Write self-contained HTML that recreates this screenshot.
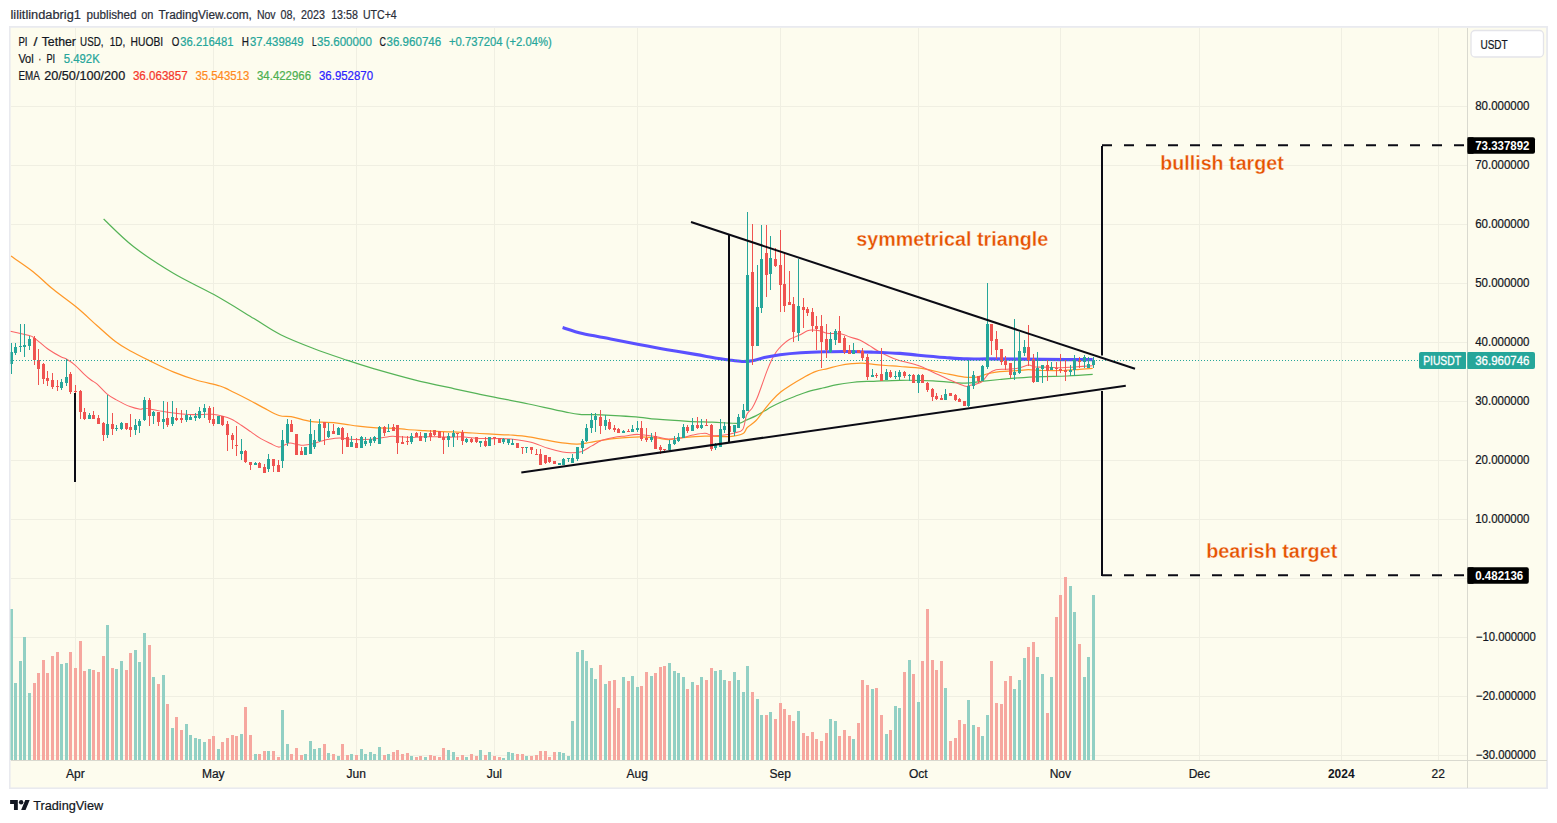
<!DOCTYPE html>
<html><head><meta charset="utf-8"><title>PIUSDT chart</title>
<style>html,body{margin:0;padding:0;background:#fff;width:1557px;height:823px;overflow:hidden;font-family:"Liberation Sans",sans-serif}</style>
</head><body>
<svg width="1557" height="823" viewBox="0 0 1557 823" style="position:absolute;left:0;top:0;font-family:'Liberation Sans',sans-serif">
<rect x="9" y="26" width="1539" height="763" fill="#e9eaef"/>
<rect x="10.6" y="27.8" width="1535.5" height="759.6" fill="#fdfcee"/>
<defs><clipPath id="pane"><rect x="10.5" y="27.5" width="1457" height="732.5"/></clipPath></defs>
<g shape-rendering="crispEdges" fill="#f0efe2">
<rect x="75" y="28" width="1" height="732"/>
<rect x="213" y="28" width="1" height="732"/>
<rect x="356" y="28" width="1" height="732"/>
<rect x="494" y="28" width="1" height="732"/>
<rect x="637" y="28" width="1" height="732"/>
<rect x="780" y="28" width="1" height="732"/>
<rect x="918" y="28" width="1" height="732"/>
<rect x="1060" y="28" width="1" height="732"/>
<rect x="1199" y="28" width="1" height="732"/>
<rect x="1341" y="28" width="1" height="732"/>
<rect x="1438" y="28" width="1" height="732"/>
<rect x="11" y="106" width="1456" height="1"/>
<rect x="11" y="165" width="1456" height="1"/>
<rect x="11" y="224" width="1456" height="1"/>
<rect x="11" y="283" width="1456" height="1"/>
<rect x="11" y="342" width="1456" height="1"/>
<rect x="11" y="401" width="1456" height="1"/>
<rect x="11" y="460" width="1456" height="1"/>
<rect x="11" y="519" width="1456" height="1"/>
<rect x="11" y="578" width="1456" height="1"/>
<rect x="11" y="637" width="1456" height="1"/>
<rect x="11" y="696" width="1456" height="1"/>
<rect x="11" y="755" width="1456" height="1"/>
</g>
<g shape-rendering="crispEdges" fill="#d9d9cf"><rect x="1467" y="28" width="1" height="760"/><rect x="11" y="760" width="1536" height="1"/></g>
<g clip-path="url(#pane)">
<g shape-rendering="crispEdges">
<rect x="10" y="609" width="3" height="151" fill="#92d0c4"/>
<rect x="14" y="683" width="3" height="77" fill="#92d0c4"/>
<rect x="19" y="661" width="3" height="99" fill="#92d0c4"/>
<rect x="23" y="637" width="3" height="123" fill="#92d0c4"/>
<rect x="28" y="693" width="3" height="67" fill="#92d0c4"/>
<rect x="33" y="683" width="3" height="77" fill="#f6a79f"/>
<rect x="37" y="673" width="3" height="87" fill="#f6a79f"/>
<rect x="42" y="660" width="3" height="100" fill="#f6a79f"/>
<rect x="46" y="673" width="3" height="87" fill="#f6a79f"/>
<rect x="51" y="656" width="3" height="104" fill="#f6a79f"/>
<rect x="56" y="652" width="3" height="108" fill="#f6a79f"/>
<rect x="60" y="664" width="3" height="96" fill="#92d0c4"/>
<rect x="65" y="663" width="3" height="97" fill="#92d0c4"/>
<rect x="69" y="652" width="3" height="108" fill="#f6a79f"/>
<rect x="74" y="668" width="3" height="92" fill="#f6a79f"/>
<rect x="79" y="641" width="3" height="119" fill="#f6a79f"/>
<rect x="83" y="671" width="3" height="89" fill="#f6a79f"/>
<rect x="88" y="669" width="3" height="91" fill="#92d0c4"/>
<rect x="92" y="670" width="3" height="90" fill="#f6a79f"/>
<rect x="97" y="672" width="3" height="88" fill="#f6a79f"/>
<rect x="102" y="656" width="3" height="104" fill="#f6a79f"/>
<rect x="106" y="625" width="3" height="135" fill="#92d0c4"/>
<rect x="111" y="668" width="3" height="92" fill="#f6a79f"/>
<rect x="115" y="669" width="3" height="91" fill="#92d0c4"/>
<rect x="120" y="661" width="3" height="99" fill="#92d0c4"/>
<rect x="125" y="670" width="3" height="90" fill="#f6a79f"/>
<rect x="129" y="653" width="3" height="107" fill="#f6a79f"/>
<rect x="134" y="650" width="3" height="110" fill="#92d0c4"/>
<rect x="138" y="662" width="3" height="98" fill="#92d0c4"/>
<rect x="143" y="633" width="3" height="127" fill="#92d0c4"/>
<rect x="148" y="645" width="3" height="115" fill="#f6a79f"/>
<rect x="152" y="677" width="3" height="83" fill="#92d0c4"/>
<rect x="157" y="684" width="3" height="76" fill="#f6a79f"/>
<rect x="162" y="675" width="3" height="85" fill="#92d0c4"/>
<rect x="166" y="704" width="3" height="56" fill="#f6a79f"/>
<rect x="171" y="728" width="3" height="32" fill="#92d0c4"/>
<rect x="175" y="717" width="3" height="43" fill="#f6a79f"/>
<rect x="180" y="730" width="3" height="30" fill="#f6a79f"/>
<rect x="185" y="724" width="3" height="36" fill="#92d0c4"/>
<rect x="189" y="735" width="3" height="25" fill="#92d0c4"/>
<rect x="194" y="738" width="3" height="22" fill="#92d0c4"/>
<rect x="198" y="739" width="3" height="21" fill="#92d0c4"/>
<rect x="203" y="742" width="3" height="18" fill="#92d0c4"/>
<rect x="208" y="739" width="3" height="21" fill="#f6a79f"/>
<rect x="212" y="736" width="3" height="24" fill="#f6a79f"/>
<rect x="217" y="749" width="3" height="11" fill="#92d0c4"/>
<rect x="221" y="742" width="3" height="18" fill="#f6a79f"/>
<rect x="226" y="738" width="3" height="22" fill="#f6a79f"/>
<rect x="231" y="735" width="3" height="25" fill="#f6a79f"/>
<rect x="235" y="736" width="3" height="24" fill="#f6a79f"/>
<rect x="240" y="734" width="3" height="26" fill="#92d0c4"/>
<rect x="244" y="707" width="3" height="53" fill="#f6a79f"/>
<rect x="249" y="735" width="3" height="25" fill="#f6a79f"/>
<rect x="254" y="754" width="3" height="6" fill="#92d0c4"/>
<rect x="258" y="754" width="3" height="6" fill="#f6a79f"/>
<rect x="263" y="751" width="3" height="9" fill="#f6a79f"/>
<rect x="267" y="751" width="3" height="9" fill="#92d0c4"/>
<rect x="272" y="751" width="3" height="9" fill="#f6a79f"/>
<rect x="277" y="757" width="3" height="3" fill="#f6a79f"/>
<rect x="281" y="710" width="3" height="50" fill="#92d0c4"/>
<rect x="286" y="744" width="3" height="16" fill="#92d0c4"/>
<rect x="290" y="754" width="3" height="6" fill="#f6a79f"/>
<rect x="295" y="748" width="3" height="12" fill="#f6a79f"/>
<rect x="300" y="755" width="3" height="5" fill="#f6a79f"/>
<rect x="304" y="754" width="3" height="6" fill="#92d0c4"/>
<rect x="309" y="741" width="3" height="19" fill="#92d0c4"/>
<rect x="313" y="749" width="3" height="11" fill="#92d0c4"/>
<rect x="318" y="748" width="3" height="12" fill="#92d0c4"/>
<rect x="323" y="744" width="3" height="16" fill="#f6a79f"/>
<rect x="327" y="753" width="3" height="7" fill="#92d0c4"/>
<rect x="332" y="754" width="3" height="6" fill="#f6a79f"/>
<rect x="337" y="756" width="3" height="4" fill="#92d0c4"/>
<rect x="341" y="744" width="3" height="16" fill="#f6a79f"/>
<rect x="346" y="755" width="3" height="5" fill="#f6a79f"/>
<rect x="350" y="754" width="3" height="6" fill="#92d0c4"/>
<rect x="355" y="755" width="3" height="5" fill="#f6a79f"/>
<rect x="360" y="749" width="3" height="11" fill="#92d0c4"/>
<rect x="364" y="754" width="3" height="6" fill="#92d0c4"/>
<rect x="369" y="752" width="3" height="8" fill="#92d0c4"/>
<rect x="373" y="754" width="3" height="6" fill="#92d0c4"/>
<rect x="378" y="747" width="3" height="13" fill="#92d0c4"/>
<rect x="383" y="755" width="3" height="5" fill="#f6a79f"/>
<rect x="387" y="754" width="3" height="6" fill="#92d0c4"/>
<rect x="392" y="752" width="3" height="8" fill="#f6a79f"/>
<rect x="396" y="750" width="3" height="10" fill="#f6a79f"/>
<rect x="401" y="754" width="3" height="6" fill="#f6a79f"/>
<rect x="406" y="753" width="3" height="7" fill="#f6a79f"/>
<rect x="410" y="756" width="3" height="4" fill="#92d0c4"/>
<rect x="415" y="757" width="3" height="3" fill="#f6a79f"/>
<rect x="419" y="756" width="3" height="4" fill="#f6a79f"/>
<rect x="424" y="757" width="3" height="3" fill="#92d0c4"/>
<rect x="429" y="755" width="3" height="5" fill="#f6a79f"/>
<rect x="433" y="756" width="3" height="4" fill="#f6a79f"/>
<rect x="438" y="757" width="3" height="3" fill="#f6a79f"/>
<rect x="442" y="748" width="3" height="12" fill="#f6a79f"/>
<rect x="447" y="750" width="3" height="10" fill="#92d0c4"/>
<rect x="452" y="752" width="3" height="8" fill="#92d0c4"/>
<rect x="456" y="757" width="3" height="3" fill="#f6a79f"/>
<rect x="461" y="755" width="3" height="5" fill="#f6a79f"/>
<rect x="465" y="757" width="3" height="3" fill="#92d0c4"/>
<rect x="470" y="754" width="3" height="6" fill="#f6a79f"/>
<rect x="475" y="756" width="3" height="4" fill="#f6a79f"/>
<rect x="479" y="750" width="3" height="10" fill="#92d0c4"/>
<rect x="484" y="755" width="3" height="5" fill="#f6a79f"/>
<rect x="488" y="752" width="3" height="8" fill="#92d0c4"/>
<rect x="493" y="756" width="3" height="4" fill="#f6a79f"/>
<rect x="498" y="757" width="3" height="3" fill="#f6a79f"/>
<rect x="502" y="758" width="3" height="2" fill="#92d0c4"/>
<rect x="507" y="752" width="3" height="8" fill="#92d0c4"/>
<rect x="511" y="753" width="3" height="7" fill="#92d0c4"/>
<rect x="516" y="754" width="3" height="6" fill="#f6a79f"/>
<rect x="521" y="754" width="3" height="6" fill="#f6a79f"/>
<rect x="525" y="756" width="3" height="4" fill="#92d0c4"/>
<rect x="530" y="756" width="3" height="4" fill="#f6a79f"/>
<rect x="535" y="755" width="3" height="5" fill="#f6a79f"/>
<rect x="539" y="751" width="3" height="9" fill="#f6a79f"/>
<rect x="544" y="751" width="3" height="9" fill="#f6a79f"/>
<rect x="548" y="757" width="3" height="3" fill="#f6a79f"/>
<rect x="553" y="752" width="3" height="8" fill="#f6a79f"/>
<rect x="558" y="752" width="3" height="8" fill="#92d0c4"/>
<rect x="562" y="753" width="3" height="7" fill="#92d0c4"/>
<rect x="567" y="756" width="3" height="4" fill="#92d0c4"/>
<rect x="571" y="721" width="3" height="39" fill="#92d0c4"/>
<rect x="576" y="652" width="3" height="108" fill="#92d0c4"/>
<rect x="581" y="650" width="3" height="110" fill="#92d0c4"/>
<rect x="585" y="661" width="3" height="99" fill="#92d0c4"/>
<rect x="590" y="668" width="3" height="92" fill="#92d0c4"/>
<rect x="594" y="679" width="3" height="81" fill="#92d0c4"/>
<rect x="599" y="665" width="3" height="95" fill="#f6a79f"/>
<rect x="604" y="684" width="3" height="76" fill="#92d0c4"/>
<rect x="608" y="681" width="3" height="79" fill="#f6a79f"/>
<rect x="613" y="680" width="3" height="80" fill="#f6a79f"/>
<rect x="617" y="708" width="3" height="52" fill="#f6a79f"/>
<rect x="622" y="677" width="3" height="83" fill="#92d0c4"/>
<rect x="627" y="681" width="3" height="79" fill="#f6a79f"/>
<rect x="631" y="676" width="3" height="84" fill="#92d0c4"/>
<rect x="636" y="687" width="3" height="73" fill="#92d0c4"/>
<rect x="640" y="686" width="3" height="74" fill="#f6a79f"/>
<rect x="645" y="672" width="3" height="88" fill="#f6a79f"/>
<rect x="650" y="676" width="3" height="84" fill="#92d0c4"/>
<rect x="654" y="673" width="3" height="87" fill="#f6a79f"/>
<rect x="659" y="667" width="3" height="93" fill="#f6a79f"/>
<rect x="663" y="666" width="3" height="94" fill="#f6a79f"/>
<rect x="668" y="663" width="3" height="97" fill="#92d0c4"/>
<rect x="673" y="671" width="3" height="89" fill="#92d0c4"/>
<rect x="677" y="673" width="3" height="87" fill="#92d0c4"/>
<rect x="682" y="677" width="3" height="83" fill="#92d0c4"/>
<rect x="686" y="689" width="3" height="71" fill="#f6a79f"/>
<rect x="691" y="682" width="3" height="78" fill="#92d0c4"/>
<rect x="696" y="685" width="3" height="75" fill="#f6a79f"/>
<rect x="700" y="677" width="3" height="83" fill="#92d0c4"/>
<rect x="705" y="680" width="3" height="80" fill="#f6a79f"/>
<rect x="710" y="668" width="3" height="92" fill="#f6a79f"/>
<rect x="714" y="671" width="3" height="89" fill="#92d0c4"/>
<rect x="719" y="670" width="3" height="90" fill="#92d0c4"/>
<rect x="723" y="680" width="3" height="80" fill="#92d0c4"/>
<rect x="728" y="681" width="3" height="79" fill="#f6a79f"/>
<rect x="733" y="672" width="3" height="88" fill="#92d0c4"/>
<rect x="737" y="680" width="3" height="80" fill="#92d0c4"/>
<rect x="742" y="692" width="3" height="68" fill="#92d0c4"/>
<rect x="746" y="666" width="3" height="94" fill="#92d0c4"/>
<rect x="751" y="692" width="3" height="68" fill="#f6a79f"/>
<rect x="756" y="699" width="3" height="61" fill="#92d0c4"/>
<rect x="760" y="715" width="3" height="45" fill="#92d0c4"/>
<rect x="765" y="715" width="3" height="45" fill="#f6a79f"/>
<rect x="769" y="712" width="3" height="48" fill="#92d0c4"/>
<rect x="774" y="719" width="3" height="41" fill="#f6a79f"/>
<rect x="779" y="703" width="3" height="57" fill="#f6a79f"/>
<rect x="783" y="709" width="3" height="51" fill="#f6a79f"/>
<rect x="788" y="715" width="3" height="45" fill="#f6a79f"/>
<rect x="792" y="721" width="3" height="39" fill="#f6a79f"/>
<rect x="797" y="711" width="3" height="49" fill="#92d0c4"/>
<rect x="802" y="733" width="3" height="27" fill="#f6a79f"/>
<rect x="806" y="736" width="3" height="24" fill="#f6a79f"/>
<rect x="811" y="732" width="3" height="28" fill="#f6a79f"/>
<rect x="815" y="739" width="3" height="21" fill="#f6a79f"/>
<rect x="820" y="741" width="3" height="19" fill="#f6a79f"/>
<rect x="825" y="733" width="3" height="27" fill="#f6a79f"/>
<rect x="829" y="719" width="3" height="41" fill="#92d0c4"/>
<rect x="834" y="721" width="3" height="39" fill="#92d0c4"/>
<rect x="838" y="736" width="3" height="24" fill="#f6a79f"/>
<rect x="843" y="730" width="3" height="30" fill="#f6a79f"/>
<rect x="848" y="736" width="3" height="24" fill="#f6a79f"/>
<rect x="852" y="739" width="3" height="21" fill="#92d0c4"/>
<rect x="857" y="723" width="3" height="37" fill="#f6a79f"/>
<rect x="861" y="680" width="3" height="80" fill="#f6a79f"/>
<rect x="866" y="685" width="3" height="75" fill="#f6a79f"/>
<rect x="871" y="689" width="3" height="71" fill="#92d0c4"/>
<rect x="875" y="688" width="3" height="72" fill="#f6a79f"/>
<rect x="880" y="715" width="3" height="45" fill="#f6a79f"/>
<rect x="885" y="734" width="3" height="26" fill="#92d0c4"/>
<rect x="889" y="730" width="3" height="30" fill="#f6a79f"/>
<rect x="894" y="706" width="3" height="54" fill="#92d0c4"/>
<rect x="898" y="708" width="3" height="52" fill="#92d0c4"/>
<rect x="903" y="672" width="3" height="88" fill="#f6a79f"/>
<rect x="908" y="660" width="3" height="100" fill="#92d0c4"/>
<rect x="912" y="674" width="3" height="86" fill="#f6a79f"/>
<rect x="917" y="702" width="3" height="58" fill="#92d0c4"/>
<rect x="921" y="661" width="3" height="99" fill="#f6a79f"/>
<rect x="926" y="609" width="3" height="151" fill="#f6a79f"/>
<rect x="931" y="660" width="3" height="100" fill="#f6a79f"/>
<rect x="935" y="670" width="3" height="90" fill="#f6a79f"/>
<rect x="940" y="661" width="3" height="99" fill="#f6a79f"/>
<rect x="944" y="688" width="3" height="72" fill="#92d0c4"/>
<rect x="949" y="741" width="3" height="19" fill="#f6a79f"/>
<rect x="954" y="738" width="3" height="22" fill="#f6a79f"/>
<rect x="958" y="720" width="3" height="40" fill="#f6a79f"/>
<rect x="963" y="724" width="3" height="36" fill="#f6a79f"/>
<rect x="967" y="700" width="3" height="60" fill="#92d0c4"/>
<rect x="972" y="725" width="3" height="35" fill="#92d0c4"/>
<rect x="977" y="727" width="3" height="33" fill="#f6a79f"/>
<rect x="981" y="736" width="3" height="24" fill="#92d0c4"/>
<rect x="986" y="715" width="3" height="45" fill="#92d0c4"/>
<rect x="990" y="661" width="3" height="99" fill="#f6a79f"/>
<rect x="995" y="703" width="3" height="57" fill="#f6a79f"/>
<rect x="1000" y="704" width="3" height="56" fill="#f6a79f"/>
<rect x="1004" y="681" width="3" height="79" fill="#f6a79f"/>
<rect x="1009" y="676" width="3" height="84" fill="#f6a79f"/>
<rect x="1013" y="689" width="3" height="71" fill="#92d0c4"/>
<rect x="1018" y="680" width="3" height="80" fill="#92d0c4"/>
<rect x="1023" y="658" width="3" height="102" fill="#92d0c4"/>
<rect x="1027" y="647" width="3" height="113" fill="#f6a79f"/>
<rect x="1032" y="642" width="3" height="118" fill="#f6a79f"/>
<rect x="1036" y="657" width="3" height="103" fill="#92d0c4"/>
<rect x="1041" y="674" width="3" height="86" fill="#92d0c4"/>
<rect x="1046" y="713" width="3" height="47" fill="#f6a79f"/>
<rect x="1050" y="677" width="3" height="83" fill="#92d0c4"/>
<rect x="1055" y="617" width="3" height="143" fill="#f6a79f"/>
<rect x="1059" y="595" width="3" height="165" fill="#f6a79f"/>
<rect x="1064" y="577" width="3" height="183" fill="#f6a79f"/>
<rect x="1069" y="586" width="3" height="174" fill="#92d0c4"/>
<rect x="1073" y="612" width="3" height="148" fill="#92d0c4"/>
<rect x="1078" y="644" width="3" height="116" fill="#f6a79f"/>
<rect x="1083" y="677" width="3" height="83" fill="#92d0c4"/>
<rect x="1087" y="657" width="3" height="103" fill="#92d0c4"/>
<rect x="1092" y="595" width="3" height="165" fill="#92d0c4"/>
</g>
<path d="M103.6 219.0C108.6 223.6 122.0 237.7 133.7 246.8C145.4 255.9 160.4 265.5 173.8 273.5C187.2 281.5 200.5 287.1 213.9 294.6C227.3 302.1 242.9 311.9 254.0 318.6C265.1 325.3 270.7 329.7 280.7 334.7C290.7 339.7 303.0 344.4 314.2 348.7C325.4 353.0 337.6 357.0 347.6 360.4C357.6 363.8 363.2 365.6 374.3 368.8C385.4 372.0 401.0 376.5 414.4 379.8C427.8 383.1 443.6 386.4 454.5 388.8C465.4 391.2 472.4 392.7 480.0 394.3C487.6 395.9 491.9 396.7 500.0 398.3C508.1 399.9 517.8 401.7 528.6 404.0C539.4 406.3 556.5 410.2 565.0 411.9C573.5 413.6 573.5 413.8 579.6 414.3C585.7 414.8 594.8 414.6 601.5 414.9C608.2 415.2 613.6 415.5 620.0 415.9C626.4 416.3 633.9 416.8 640.0 417.3C646.1 417.9 648.5 418.5 656.5 419.2C664.5 419.9 678.7 420.8 688.0 421.3C697.3 421.8 705.4 421.9 712.3 422.2C719.2 422.5 724.8 422.9 729.4 423.1C734.0 423.3 737.2 423.7 740.0 423.2C742.8 422.7 743.4 421.4 746.0 420.2C748.6 419.0 752.8 417.4 755.8 415.9C758.8 414.4 761.7 412.6 764.3 411.1C766.9 409.6 768.8 408.3 771.6 406.8C774.4 405.3 777.4 403.7 781.3 402.0C785.1 400.3 790.2 398.2 794.7 396.5C799.2 394.8 803.4 393.0 808.0 391.6C812.6 390.2 817.7 389.1 822.6 388.0C827.5 386.9 832.3 385.6 837.2 384.7C842.1 383.8 847.8 383.0 851.8 382.5C855.8 382.0 857.9 381.8 861.5 381.6C865.1 381.4 867.3 381.5 873.7 381.3C880.1 381.1 890.1 380.4 900.0 380.3C909.9 380.2 922.2 380.3 933.0 380.8C943.8 381.3 956.4 383.1 964.5 383.2C972.6 383.3 975.6 382.0 981.5 381.4C987.4 380.8 993.5 380.1 999.7 379.5C1005.9 378.9 1011.4 378.3 1018.6 377.8C1025.8 377.3 1034.8 376.9 1042.9 376.6C1051.0 376.3 1058.9 376.4 1067.2 376.0C1075.5 375.6 1088.5 374.7 1092.7 374.4" fill="none" stroke="#55b357" stroke-width="1.2" stroke-linejoin="round" stroke-linecap="butt" />
<path d="M11.0 256.1C14.7 258.7 26.3 266.3 33.4 271.9C40.5 277.5 46.2 283.7 53.5 289.6C60.8 295.6 69.6 301.6 76.9 307.6C84.2 313.6 90.8 320.1 97.2 325.8C103.6 331.5 109.9 337.5 115.4 341.6C120.9 345.8 124.2 347.4 130.0 350.7C135.8 353.9 143.1 357.5 150.4 361.1C157.7 364.7 166.2 369.0 173.8 372.1C181.4 375.2 188.4 377.7 196.1 380.0C203.8 382.3 214.5 384.3 220.0 386.0C225.5 387.7 224.4 387.7 229.2 390.0C234.0 392.3 242.9 396.8 248.6 399.7C254.3 402.6 258.1 405.0 263.2 407.6C268.3 410.2 274.4 414.0 279.0 415.5C283.6 417.0 287.1 416.0 291.1 416.7C295.2 417.4 299.9 419.0 303.3 419.8C306.8 420.6 308.8 421.2 311.8 421.6C314.8 422.0 317.9 422.0 321.5 422.2C325.1 422.4 329.6 422.2 333.7 422.6C337.8 423.0 341.7 423.7 345.8 424.3C349.9 424.9 353.1 425.6 358.2 426.2C363.3 426.8 370.4 427.5 376.5 427.9C382.6 428.2 389.6 428.0 394.7 428.3C399.8 428.6 401.8 429.1 406.8 429.5C411.9 429.9 418.9 430.3 425.0 430.7C431.1 431.1 437.2 431.3 443.3 431.6C449.4 431.9 455.4 432.0 461.5 432.3C467.6 432.6 473.4 433.1 479.8 433.5C486.2 433.9 494.9 434.4 500.0 434.7C505.1 434.9 505.6 434.6 510.4 435.0C515.2 435.4 522.3 435.9 528.6 436.8C534.9 437.7 541.9 439.3 548.0 440.4C554.1 441.5 560.1 442.6 565.0 443.2C569.9 443.8 573.1 444.2 577.2 444.1C581.3 444.0 585.4 443.1 589.4 442.5C593.4 441.9 597.5 441.0 601.5 440.4C605.5 439.8 607.3 439.2 613.7 438.6C620.1 438.0 632.9 436.9 640.0 436.8C647.1 436.7 651.7 437.6 656.5 438.0C661.3 438.4 664.6 439.5 668.6 439.5C672.6 439.5 674.7 438.6 680.8 438.0C686.9 437.4 696.9 436.4 705.0 436.2C713.1 436.0 723.1 437.0 729.4 436.6C735.7 436.2 739.7 435.3 742.7 433.8C745.7 432.3 745.1 429.7 747.3 427.5C749.5 425.3 753.0 423.7 755.8 420.8C758.6 417.9 761.7 413.2 764.3 409.9C766.9 406.6 768.8 403.9 771.6 400.8C774.4 397.8 778.1 394.2 781.3 391.6C784.5 389.0 787.4 387.3 791.0 385.0C794.6 382.7 799.2 379.9 803.2 377.7C807.2 375.5 811.2 373.1 815.3 371.6C819.3 370.1 823.5 369.6 827.5 368.6C831.5 367.6 835.6 366.3 839.6 365.5C843.6 364.7 848.1 364.1 851.8 363.7C855.4 363.3 857.9 363.0 861.5 363.1C865.1 363.2 869.7 363.9 873.7 364.3C877.8 364.7 881.4 365.1 885.8 365.5C890.2 365.9 893.8 366.0 900.0 366.5C906.2 367.0 915.5 367.4 923.0 368.6C930.5 369.8 938.1 372.1 945.0 373.5C951.9 374.9 959.2 376.5 964.5 377.1C969.8 377.7 972.6 377.7 976.6 377.1C980.6 376.5 984.9 374.4 988.8 373.5C992.6 372.6 994.7 372.1 999.7 371.6C1004.7 371.1 1013.8 370.8 1018.6 370.5C1023.4 370.2 1024.2 369.7 1028.3 369.7C1032.3 369.7 1037.2 370.4 1042.9 370.5C1048.6 370.6 1056.2 370.7 1062.3 370.5C1068.4 370.3 1074.3 369.7 1079.4 369.3C1084.5 368.9 1090.5 368.5 1092.7 368.3" fill="none" stroke="#ff9828" stroke-width="1.25" stroke-linejoin="round" stroke-linecap="butt" />
<path d="M10.3 331.3C13.5 332.0 25.0 334.3 29.2 335.5C33.4 336.7 32.0 336.3 35.2 338.6C38.4 340.9 44.3 346.5 48.6 349.5C52.9 352.5 57.8 355.2 60.8 356.8C63.8 358.4 64.4 357.8 66.8 359.2C69.2 360.6 72.5 362.9 75.3 365.3C78.1 367.7 81.2 371.4 83.8 373.8C86.4 376.2 88.8 378.3 91.0 380.0C93.2 381.7 94.5 381.8 97.2 384.1C99.9 386.4 103.8 391.2 106.9 393.8C110.0 396.4 112.1 397.5 115.9 399.6C119.8 401.7 126.0 405.0 130.0 406.6C134.1 408.2 137.7 408.9 140.2 409.2C142.7 409.5 142.2 408.0 145.0 408.2C147.8 408.4 153.1 409.7 157.2 410.4C161.3 411.1 165.3 412.0 169.4 412.6C173.5 413.2 177.4 413.7 181.5 414.0C185.6 414.3 189.6 414.6 193.7 414.6C197.8 414.7 202.7 414.4 205.8 414.3C208.9 414.2 209.5 414.0 212.2 414.3C214.9 414.6 218.7 415.1 221.9 415.9C225.1 416.7 228.4 417.6 231.6 419.2C234.8 420.8 238.1 423.1 241.3 425.2C244.5 427.3 247.8 429.7 251.0 431.9C254.2 434.1 257.6 436.7 260.8 438.6C264.1 440.5 267.6 442.1 270.5 443.5C273.4 444.9 276.2 446.8 278.4 447.1C280.6 447.4 281.9 446.0 283.8 445.3C285.7 444.6 287.7 443.2 289.9 443.1C292.1 443.0 295.0 444.0 297.2 444.4C299.4 444.8 300.9 445.4 303.3 445.3C305.7 445.2 308.8 444.8 311.8 444.1C314.8 443.4 318.7 441.8 321.5 441.0C324.3 440.2 325.8 439.7 328.8 439.2C331.8 438.7 336.2 438.0 339.7 438.0C343.1 438.0 346.1 438.9 349.5 439.2C352.9 439.5 356.5 439.6 360.0 439.6C363.5 439.6 367.0 439.5 370.4 439.2C373.8 438.9 376.5 438.5 380.1 438.0C383.7 437.5 389.2 436.4 392.2 436.2C395.2 436.0 394.9 436.6 398.3 436.8C401.8 437.0 408.4 437.4 412.9 437.4C417.3 437.4 420.9 436.9 425.0 436.8C429.1 436.7 433.1 436.8 437.2 436.8C441.3 436.9 445.3 437.1 449.4 437.1C453.4 437.1 457.4 436.7 461.5 436.8C465.6 436.9 469.6 437.7 473.7 438.0C477.8 438.3 481.4 438.5 485.8 438.6C490.2 438.7 495.5 438.5 500.0 438.6C504.5 438.7 507.6 438.6 512.8 439.2C518.0 439.8 525.1 440.7 531.0 442.2C536.9 443.7 542.7 446.7 548.0 448.3C553.3 449.9 558.6 451.2 562.6 452.0C566.6 452.8 569.1 452.9 572.3 452.8C575.5 452.7 578.8 452.5 582.0 451.4C585.2 450.2 588.5 447.7 591.8 445.9C595.0 444.1 597.9 441.8 601.5 440.4C605.1 439.0 609.7 438.1 613.7 437.4C617.8 436.6 621.7 436.4 625.8 435.9C629.9 435.4 633.1 434.2 638.2 434.4C643.3 434.5 651.4 436.0 656.5 436.8C661.6 437.6 664.6 438.8 668.6 439.0C672.6 439.2 676.8 438.7 680.8 438.0C684.8 437.3 688.9 435.8 692.9 435.0C696.9 434.2 701.8 433.1 705.0 433.2C708.2 433.3 709.0 435.3 712.3 435.6C715.5 435.9 720.9 435.4 724.5 435.0C728.1 434.6 731.2 433.8 734.2 432.9C737.2 432.0 740.6 432.5 742.7 429.5C744.8 426.5 745.1 418.3 746.7 414.7C748.3 411.1 750.5 410.7 752.2 408.0C753.9 405.3 755.4 402.1 757.0 398.3C758.6 394.5 760.3 389.4 761.9 385.0C763.5 380.6 765.1 375.8 766.7 371.6C768.3 367.4 770.0 363.4 771.6 360.0C773.2 356.6 774.7 354.0 776.5 351.5C778.3 349.0 780.4 346.9 782.5 344.9C784.6 342.9 786.5 341.1 789.3 339.5C792.0 337.9 796.0 336.8 799.0 335.3C802.0 333.9 805.3 331.7 807.5 330.8C809.7 329.9 810.1 330.0 812.3 330.0C814.5 330.0 818.5 330.5 820.9 331.0C823.3 331.5 823.5 332.7 826.9 333.2C830.3 333.7 837.6 333.4 841.5 334.0C845.4 334.6 847.0 336.1 850.0 337.1C853.0 338.1 856.5 338.7 859.7 340.1C863.0 341.5 866.5 343.8 869.5 345.6C872.5 347.4 873.5 348.7 878.0 351.0C882.5 353.3 889.8 357.1 896.5 359.5C903.2 361.9 912.2 363.5 918.3 365.6C924.4 367.7 928.1 370.0 933.0 372.2C937.9 374.4 942.2 376.6 947.5 378.9C952.8 381.2 960.9 384.9 964.5 386.0C968.1 387.1 966.6 386.3 969.4 385.6C972.2 384.9 978.3 384.0 981.5 382.0C984.7 380.0 986.4 375.5 988.8 373.5C991.2 371.5 993.2 370.5 996.0 369.8C998.8 369.1 1002.0 369.5 1005.8 369.2C1009.6 368.9 1014.9 368.8 1018.6 368.1C1022.4 367.4 1025.5 365.3 1028.3 365.1C1031.1 364.9 1032.3 366.5 1035.6 366.9C1038.8 367.2 1043.3 367.1 1047.8 367.2C1052.2 367.3 1057.8 367.8 1062.3 367.7C1066.8 367.6 1069.4 367.2 1074.5 366.9C1079.6 366.6 1089.7 365.9 1092.7 365.7" fill="none" stroke="#fb6466" stroke-width="1.05" stroke-linejoin="round" stroke-linecap="butt" />
<path d="M562.6 327.6C565.9 328.6 574.4 331.7 582.4 333.6C590.4 335.5 601.3 337.1 610.7 338.9C620.1 340.7 629.5 342.7 638.9 344.5C648.3 346.3 657.8 348.1 667.2 349.7C676.6 351.3 687.2 353.0 695.4 354.4C703.6 355.8 711.0 357.3 716.6 358.2C722.2 359.1 725.1 359.4 729.3 360.0C733.5 360.6 738.2 361.4 742.0 361.5C745.8 361.6 748.5 361.3 752.2 360.7C755.9 360.1 759.7 358.6 764.3 357.6C768.9 356.6 773.9 355.6 780.0 354.8C786.1 354.0 793.3 353.3 800.8 352.8C808.3 352.3 816.9 352.0 825.0 351.8C833.1 351.6 841.3 351.4 849.4 351.5C857.5 351.6 865.3 351.9 873.7 352.2C882.1 352.5 892.6 352.9 900.0 353.4C907.4 353.9 910.8 354.5 918.3 355.2C925.8 355.9 936.9 356.9 945.0 357.5C953.1 358.1 959.9 358.7 967.0 358.9C974.1 359.1 978.8 358.9 987.6 358.9C996.4 358.9 1006.7 359.0 1020.0 359.1C1033.3 359.2 1055.1 359.5 1067.2 359.6C1079.3 359.7 1088.5 359.6 1092.7 359.6" fill="none" stroke="#5a50ff" stroke-width="3.1" stroke-linejoin="round" stroke-linecap="butt" />
<g shape-rendering="crispEdges">
<rect x="11" y="343" width="1" height="31" fill="#26a69a"/><rect x="10" y="352" width="3" height="12" fill="#26a69a"/>
<rect x="15" y="343" width="1" height="12" fill="#26a69a"/><rect x="14" y="347" width="3" height="6" fill="#26a69a"/>
<rect x="20" y="324" width="1" height="28" fill="#26a69a"/><rect x="19" y="346" width="3" height="1" fill="#26a69a"/>
<rect x="24" y="324" width="1" height="33" fill="#26a69a"/><rect x="23" y="345" width="3" height="2" fill="#26a69a"/>
<rect x="29" y="336" width="1" height="14" fill="#26a69a"/><rect x="28" y="339" width="3" height="7" fill="#26a69a"/>
<rect x="34" y="336" width="1" height="29" fill="#ef5350"/><rect x="33" y="338" width="3" height="22" fill="#ef5350"/>
<rect x="38" y="349" width="1" height="36" fill="#ef5350"/><rect x="37" y="360" width="3" height="9" fill="#ef5350"/>
<rect x="43" y="363" width="1" height="21" fill="#ef5350"/><rect x="42" y="364" width="3" height="15" fill="#ef5350"/>
<rect x="47" y="371" width="1" height="15" fill="#ef5350"/><rect x="46" y="378" width="3" height="3" fill="#ef5350"/>
<rect x="52" y="373" width="1" height="16" fill="#ef5350"/><rect x="51" y="380" width="3" height="7" fill="#ef5350"/>
<rect x="57" y="380" width="1" height="11" fill="#ef5350"/><rect x="56" y="386" width="3" height="1" fill="#ef5350"/>
<rect x="61" y="379" width="1" height="11" fill="#26a69a"/><rect x="60" y="382" width="3" height="6" fill="#26a69a"/>
<rect x="66" y="359" width="1" height="27" fill="#26a69a"/><rect x="65" y="377" width="3" height="6" fill="#26a69a"/>
<rect x="70" y="372" width="1" height="22" fill="#ef5350"/><rect x="69" y="374" width="3" height="18" fill="#ef5350"/>
<rect x="75" y="385" width="1" height="12" fill="#ef5350"/><rect x="74" y="391" width="3" height="1" fill="#ef5350"/>
<rect x="80" y="390" width="1" height="29" fill="#ef5350"/><rect x="79" y="391" width="3" height="21" fill="#ef5350"/>
<rect x="84" y="408" width="1" height="12" fill="#ef5350"/><rect x="83" y="412" width="3" height="7" fill="#ef5350"/>
<rect x="89" y="413" width="1" height="6" fill="#26a69a"/><rect x="88" y="415" width="3" height="4" fill="#26a69a"/>
<rect x="93" y="411" width="1" height="8" fill="#ef5350"/><rect x="92" y="415" width="3" height="4" fill="#ef5350"/>
<rect x="98" y="415" width="1" height="9" fill="#ef5350"/><rect x="97" y="418" width="3" height="6" fill="#ef5350"/>
<rect x="103" y="422" width="1" height="19" fill="#ef5350"/><rect x="102" y="423" width="3" height="12" fill="#ef5350"/>
<rect x="107" y="395" width="1" height="43" fill="#26a69a"/><rect x="106" y="424" width="3" height="11" fill="#26a69a"/>
<rect x="112" y="413" width="1" height="22" fill="#ef5350"/><rect x="111" y="424" width="3" height="5" fill="#ef5350"/>
<rect x="116" y="425" width="1" height="6" fill="#26a69a"/><rect x="115" y="428" width="3" height="1" fill="#26a69a"/>
<rect x="121" y="422" width="1" height="8" fill="#26a69a"/><rect x="120" y="423" width="3" height="6" fill="#26a69a"/>
<rect x="126" y="423" width="1" height="7" fill="#ef5350"/><rect x="125" y="423" width="3" height="6" fill="#ef5350"/>
<rect x="130" y="414" width="1" height="23" fill="#ef5350"/><rect x="129" y="427" width="3" height="3" fill="#ef5350"/>
<rect x="135" y="419" width="1" height="16" fill="#26a69a"/><rect x="134" y="425" width="3" height="5" fill="#26a69a"/>
<rect x="139" y="419" width="1" height="14" fill="#26a69a"/><rect x="138" y="421" width="3" height="5" fill="#26a69a"/>
<rect x="144" y="397" width="1" height="24" fill="#26a69a"/><rect x="143" y="400" width="3" height="20" fill="#26a69a"/>
<rect x="149" y="398" width="1" height="28" fill="#ef5350"/><rect x="148" y="400" width="3" height="16" fill="#ef5350"/>
<rect x="153" y="411" width="1" height="13" fill="#26a69a"/><rect x="152" y="412" width="3" height="4" fill="#26a69a"/>
<rect x="158" y="412" width="1" height="14" fill="#ef5350"/><rect x="157" y="412" width="3" height="10" fill="#ef5350"/>
<rect x="163" y="401" width="1" height="28" fill="#26a69a"/><rect x="162" y="419" width="3" height="3" fill="#26a69a"/>
<rect x="167" y="402" width="1" height="25" fill="#ef5350"/><rect x="166" y="418" width="3" height="7" fill="#ef5350"/>
<rect x="172" y="401" width="1" height="25" fill="#26a69a"/><rect x="171" y="417" width="3" height="7" fill="#26a69a"/>
<rect x="176" y="408" width="1" height="13" fill="#ef5350"/><rect x="175" y="418" width="3" height="2" fill="#ef5350"/>
<rect x="181" y="410" width="1" height="13" fill="#ef5350"/><rect x="180" y="418" width="3" height="2" fill="#ef5350"/>
<rect x="186" y="410" width="1" height="12" fill="#26a69a"/><rect x="185" y="415" width="3" height="5" fill="#26a69a"/>
<rect x="190" y="415" width="1" height="5" fill="#26a69a"/><rect x="189" y="417" width="3" height="3" fill="#26a69a"/>
<rect x="195" y="413" width="1" height="8" fill="#26a69a"/><rect x="194" y="416" width="3" height="2" fill="#26a69a"/>
<rect x="199" y="407" width="1" height="12" fill="#26a69a"/><rect x="198" y="411" width="3" height="7" fill="#26a69a"/>
<rect x="204" y="404" width="1" height="14" fill="#26a69a"/><rect x="203" y="408" width="3" height="4" fill="#26a69a"/>
<rect x="209" y="406" width="1" height="17" fill="#ef5350"/><rect x="208" y="408" width="3" height="12" fill="#ef5350"/>
<rect x="213" y="407" width="1" height="19" fill="#ef5350"/><rect x="212" y="419" width="3" height="5" fill="#ef5350"/>
<rect x="218" y="416" width="1" height="8" fill="#26a69a"/><rect x="217" y="416" width="3" height="8" fill="#26a69a"/>
<rect x="222" y="416" width="1" height="10" fill="#ef5350"/><rect x="221" y="416" width="3" height="9" fill="#ef5350"/>
<rect x="227" y="421" width="1" height="30" fill="#ef5350"/><rect x="226" y="424" width="3" height="11" fill="#ef5350"/>
<rect x="232" y="433" width="1" height="16" fill="#ef5350"/><rect x="231" y="435" width="3" height="5" fill="#ef5350"/>
<rect x="236" y="426" width="1" height="30" fill="#ef5350"/><rect x="235" y="445" width="3" height="1" fill="#ef5350"/>
<rect x="241" y="439" width="1" height="21" fill="#26a69a"/><rect x="240" y="451" width="3" height="3" fill="#26a69a"/>
<rect x="245" y="450" width="1" height="13" fill="#ef5350"/><rect x="244" y="451" width="3" height="11" fill="#ef5350"/>
<rect x="250" y="462" width="1" height="8" fill="#ef5350"/><rect x="249" y="462" width="3" height="3" fill="#ef5350"/>
<rect x="255" y="462" width="1" height="3" fill="#26a69a"/><rect x="254" y="463" width="3" height="2" fill="#26a69a"/>
<rect x="259" y="462" width="1" height="6" fill="#ef5350"/><rect x="258" y="463" width="3" height="5" fill="#ef5350"/>
<rect x="264" y="464" width="1" height="9" fill="#ef5350"/><rect x="263" y="467" width="3" height="6" fill="#ef5350"/>
<rect x="268" y="454" width="1" height="18" fill="#26a69a"/><rect x="267" y="459" width="3" height="10" fill="#26a69a"/>
<rect x="273" y="459" width="1" height="13" fill="#ef5350"/><rect x="272" y="459" width="3" height="7" fill="#ef5350"/>
<rect x="278" y="460" width="1" height="12" fill="#ef5350"/><rect x="277" y="465" width="3" height="7" fill="#ef5350"/>
<rect x="282" y="430" width="1" height="38" fill="#26a69a"/><rect x="281" y="440" width="3" height="21" fill="#26a69a"/>
<rect x="287" y="419" width="1" height="27" fill="#26a69a"/><rect x="286" y="424" width="3" height="19" fill="#26a69a"/>
<rect x="291" y="420" width="1" height="12" fill="#ef5350"/><rect x="290" y="424" width="3" height="8" fill="#ef5350"/>
<rect x="296" y="434" width="1" height="21" fill="#ef5350"/><rect x="295" y="434" width="3" height="21" fill="#ef5350"/>
<rect x="301" y="447" width="1" height="8" fill="#ef5350"/><rect x="300" y="451" width="3" height="4" fill="#ef5350"/>
<rect x="305" y="447" width="1" height="8" fill="#26a69a"/><rect x="304" y="447" width="3" height="8" fill="#26a69a"/>
<rect x="310" y="419" width="1" height="35" fill="#26a69a"/><rect x="309" y="434" width="3" height="20" fill="#26a69a"/>
<rect x="314" y="430" width="1" height="19" fill="#26a69a"/><rect x="313" y="440" width="3" height="7" fill="#26a69a"/>
<rect x="319" y="419" width="1" height="23" fill="#26a69a"/><rect x="318" y="424" width="3" height="17" fill="#26a69a"/>
<rect x="324" y="422" width="1" height="23" fill="#ef5350"/><rect x="323" y="422" width="3" height="6" fill="#ef5350"/>
<rect x="328" y="423" width="1" height="15" fill="#26a69a"/><rect x="327" y="431" width="3" height="6" fill="#26a69a"/>
<rect x="333" y="424" width="1" height="10" fill="#ef5350"/><rect x="332" y="431" width="3" height="3" fill="#ef5350"/>
<rect x="338" y="427" width="1" height="8" fill="#26a69a"/><rect x="337" y="428" width="3" height="7" fill="#26a69a"/>
<rect x="342" y="427" width="1" height="27" fill="#ef5350"/><rect x="341" y="428" width="3" height="12" fill="#ef5350"/>
<rect x="347" y="433" width="1" height="14" fill="#ef5350"/><rect x="346" y="437" width="3" height="10" fill="#ef5350"/>
<rect x="351" y="436" width="1" height="11" fill="#26a69a"/><rect x="350" y="442" width="3" height="5" fill="#26a69a"/>
<rect x="356" y="438" width="1" height="10" fill="#ef5350"/><rect x="355" y="443" width="3" height="5" fill="#ef5350"/>
<rect x="361" y="436" width="1" height="12" fill="#26a69a"/><rect x="360" y="437" width="3" height="11" fill="#26a69a"/>
<rect x="365" y="437" width="1" height="9" fill="#26a69a"/><rect x="364" y="441" width="3" height="3" fill="#26a69a"/>
<rect x="370" y="437" width="1" height="9" fill="#26a69a"/><rect x="369" y="439" width="3" height="4" fill="#26a69a"/>
<rect x="374" y="436" width="1" height="7" fill="#26a69a"/><rect x="373" y="437" width="3" height="4" fill="#26a69a"/>
<rect x="379" y="426" width="1" height="18" fill="#26a69a"/><rect x="378" y="427" width="3" height="17" fill="#26a69a"/>
<rect x="384" y="426" width="1" height="10" fill="#ef5350"/><rect x="383" y="427" width="3" height="6" fill="#ef5350"/>
<rect x="388" y="424" width="1" height="8" fill="#26a69a"/><rect x="387" y="431" width="3" height="1" fill="#26a69a"/>
<rect x="393" y="424" width="1" height="7" fill="#ef5350"/><rect x="392" y="427" width="3" height="4" fill="#ef5350"/>
<rect x="397" y="425" width="1" height="29" fill="#ef5350"/><rect x="396" y="425" width="3" height="18" fill="#ef5350"/>
<rect x="402" y="436" width="1" height="8" fill="#ef5350"/><rect x="401" y="442" width="3" height="2" fill="#ef5350"/>
<rect x="407" y="436" width="1" height="9" fill="#ef5350"/><rect x="406" y="441" width="3" height="1" fill="#ef5350"/>
<rect x="411" y="433" width="1" height="11" fill="#26a69a"/><rect x="410" y="436" width="3" height="6" fill="#26a69a"/>
<rect x="416" y="432" width="1" height="5" fill="#ef5350"/><rect x="415" y="433" width="3" height="4" fill="#ef5350"/>
<rect x="420" y="432" width="1" height="9" fill="#ef5350"/><rect x="419" y="436" width="3" height="5" fill="#ef5350"/>
<rect x="425" y="433" width="1" height="9" fill="#26a69a"/><rect x="424" y="433" width="3" height="5" fill="#26a69a"/>
<rect x="430" y="430" width="1" height="11" fill="#ef5350"/><rect x="429" y="433" width="3" height="4" fill="#ef5350"/>
<rect x="434" y="430" width="1" height="6" fill="#ef5350"/><rect x="433" y="430" width="3" height="5" fill="#ef5350"/>
<rect x="439" y="431" width="1" height="7" fill="#ef5350"/><rect x="438" y="431" width="3" height="7" fill="#ef5350"/>
<rect x="443" y="432" width="1" height="22" fill="#ef5350"/><rect x="442" y="437" width="3" height="3" fill="#ef5350"/>
<rect x="448" y="433" width="1" height="14" fill="#26a69a"/><rect x="447" y="436" width="3" height="4" fill="#26a69a"/>
<rect x="453" y="430" width="1" height="17" fill="#26a69a"/><rect x="452" y="433" width="3" height="4" fill="#26a69a"/>
<rect x="457" y="433" width="1" height="7" fill="#ef5350"/><rect x="456" y="433" width="3" height="1" fill="#ef5350"/>
<rect x="462" y="430" width="1" height="15" fill="#ef5350"/><rect x="461" y="432" width="3" height="9" fill="#ef5350"/>
<rect x="466" y="438" width="1" height="5" fill="#26a69a"/><rect x="465" y="439" width="3" height="3" fill="#26a69a"/>
<rect x="471" y="438" width="1" height="5" fill="#ef5350"/><rect x="470" y="439" width="3" height="3" fill="#ef5350"/>
<rect x="476" y="437" width="1" height="6" fill="#ef5350"/><rect x="475" y="437" width="3" height="5" fill="#ef5350"/>
<rect x="480" y="441" width="1" height="6" fill="#26a69a"/><rect x="479" y="441" width="3" height="2" fill="#26a69a"/>
<rect x="485" y="437" width="1" height="10" fill="#ef5350"/><rect x="484" y="441" width="3" height="5" fill="#ef5350"/>
<rect x="489" y="437" width="1" height="9" fill="#26a69a"/><rect x="488" y="437" width="3" height="9" fill="#26a69a"/>
<rect x="494" y="437" width="1" height="8" fill="#ef5350"/><rect x="493" y="437" width="3" height="1" fill="#ef5350"/>
<rect x="499" y="438" width="1" height="5" fill="#ef5350"/><rect x="498" y="438" width="3" height="5" fill="#ef5350"/>
<rect x="503" y="438" width="1" height="6" fill="#26a69a"/><rect x="502" y="439" width="3" height="3" fill="#26a69a"/>
<rect x="508" y="439" width="1" height="6" fill="#26a69a"/><rect x="507" y="439" width="3" height="4" fill="#26a69a"/>
<rect x="512" y="439" width="1" height="6" fill="#26a69a"/><rect x="511" y="443" width="3" height="2" fill="#26a69a"/>
<rect x="517" y="443" width="1" height="5" fill="#ef5350"/><rect x="516" y="443" width="3" height="5" fill="#ef5350"/>
<rect x="522" y="447" width="1" height="7" fill="#ef5350"/><rect x="521" y="447" width="3" height="1" fill="#ef5350"/>
<rect x="526" y="447" width="1" height="6" fill="#26a69a"/><rect x="525" y="447" width="3" height="1" fill="#26a69a"/>
<rect x="531" y="447" width="1" height="7" fill="#ef5350"/><rect x="530" y="447" width="3" height="3" fill="#ef5350"/>
<rect x="536" y="449" width="1" height="6" fill="#ef5350"/><rect x="535" y="454" width="3" height="1" fill="#ef5350"/>
<rect x="540" y="449" width="1" height="16" fill="#ef5350"/><rect x="539" y="454" width="3" height="11" fill="#ef5350"/>
<rect x="545" y="455" width="1" height="9" fill="#ef5350"/><rect x="544" y="455" width="3" height="8" fill="#ef5350"/>
<rect x="549" y="457" width="1" height="6" fill="#ef5350"/><rect x="548" y="457" width="3" height="5" fill="#ef5350"/>
<rect x="554" y="461" width="1" height="3" fill="#ef5350"/><rect x="553" y="461" width="3" height="3" fill="#ef5350"/>
<rect x="559" y="463" width="1" height="2" fill="#26a69a"/><rect x="558" y="463" width="3" height="2" fill="#26a69a"/>
<rect x="563" y="458" width="1" height="7" fill="#26a69a"/><rect x="562" y="459" width="3" height="6" fill="#26a69a"/>
<rect x="568" y="458" width="1" height="4" fill="#26a69a"/><rect x="567" y="458" width="3" height="1" fill="#26a69a"/>
<rect x="572" y="454" width="1" height="9" fill="#26a69a"/><rect x="571" y="458" width="3" height="5" fill="#26a69a"/>
<rect x="577" y="447" width="1" height="14" fill="#26a69a"/><rect x="576" y="447" width="3" height="12" fill="#26a69a"/>
<rect x="582" y="439" width="1" height="15" fill="#26a69a"/><rect x="581" y="441" width="3" height="7" fill="#26a69a"/>
<rect x="586" y="424" width="1" height="18" fill="#26a69a"/><rect x="585" y="428" width="3" height="13" fill="#26a69a"/>
<rect x="591" y="413" width="1" height="20" fill="#26a69a"/><rect x="590" y="420" width="3" height="8" fill="#26a69a"/>
<rect x="595" y="413" width="1" height="19" fill="#26a69a"/><rect x="594" y="416" width="3" height="4" fill="#26a69a"/>
<rect x="600" y="410" width="1" height="24" fill="#ef5350"/><rect x="599" y="417" width="3" height="9" fill="#ef5350"/>
<rect x="605" y="415" width="1" height="15" fill="#26a69a"/><rect x="604" y="420" width="3" height="6" fill="#26a69a"/>
<rect x="609" y="419" width="1" height="11" fill="#ef5350"/><rect x="608" y="422" width="3" height="7" fill="#ef5350"/>
<rect x="614" y="425" width="1" height="7" fill="#ef5350"/><rect x="613" y="428" width="3" height="2" fill="#ef5350"/>
<rect x="618" y="428" width="1" height="5" fill="#ef5350"/><rect x="617" y="429" width="3" height="4" fill="#ef5350"/>
<rect x="623" y="430" width="1" height="3" fill="#26a69a"/><rect x="622" y="431" width="3" height="2" fill="#26a69a"/>
<rect x="628" y="429" width="1" height="3" fill="#ef5350"/><rect x="627" y="431" width="3" height="1" fill="#ef5350"/>
<rect x="632" y="425" width="1" height="7" fill="#26a69a"/><rect x="631" y="429" width="3" height="3" fill="#26a69a"/>
<rect x="637" y="421" width="1" height="11" fill="#26a69a"/><rect x="636" y="428" width="3" height="2" fill="#26a69a"/>
<rect x="641" y="421" width="1" height="20" fill="#ef5350"/><rect x="640" y="428" width="3" height="11" fill="#ef5350"/>
<rect x="646" y="428" width="1" height="14" fill="#ef5350"/><rect x="645" y="438" width="3" height="2" fill="#ef5350"/>
<rect x="651" y="433" width="1" height="9" fill="#26a69a"/><rect x="650" y="437" width="3" height="3" fill="#26a69a"/>
<rect x="655" y="432" width="1" height="17" fill="#ef5350"/><rect x="654" y="436" width="3" height="13" fill="#ef5350"/>
<rect x="660" y="445" width="1" height="9" fill="#ef5350"/><rect x="659" y="447" width="3" height="3" fill="#ef5350"/>
<rect x="664" y="449" width="1" height="3" fill="#ef5350"/><rect x="663" y="449" width="3" height="1" fill="#ef5350"/>
<rect x="669" y="440" width="1" height="11" fill="#26a69a"/><rect x="668" y="444" width="3" height="6" fill="#26a69a"/>
<rect x="674" y="436" width="1" height="9" fill="#26a69a"/><rect x="673" y="440" width="3" height="4" fill="#26a69a"/>
<rect x="678" y="433" width="1" height="9" fill="#26a69a"/><rect x="677" y="437" width="3" height="4" fill="#26a69a"/>
<rect x="683" y="424" width="1" height="14" fill="#26a69a"/><rect x="682" y="427" width="3" height="11" fill="#26a69a"/>
<rect x="687" y="425" width="1" height="8" fill="#ef5350"/><rect x="686" y="427" width="3" height="4" fill="#ef5350"/>
<rect x="692" y="418" width="1" height="13" fill="#26a69a"/><rect x="691" y="425" width="3" height="6" fill="#26a69a"/>
<rect x="697" y="417" width="1" height="12" fill="#ef5350"/><rect x="696" y="425" width="3" height="3" fill="#ef5350"/>
<rect x="701" y="419" width="1" height="10" fill="#26a69a"/><rect x="700" y="425" width="3" height="3" fill="#26a69a"/>
<rect x="706" y="419" width="1" height="7" fill="#ef5350"/><rect x="705" y="425" width="3" height="1" fill="#ef5350"/>
<rect x="711" y="424" width="1" height="27" fill="#ef5350"/><rect x="710" y="425" width="3" height="24" fill="#ef5350"/>
<rect x="715" y="443" width="1" height="7" fill="#26a69a"/><rect x="714" y="445" width="3" height="3" fill="#26a69a"/>
<rect x="720" y="419" width="1" height="28" fill="#26a69a"/><rect x="719" y="429" width="3" height="18" fill="#26a69a"/>
<rect x="724" y="422" width="1" height="11" fill="#26a69a"/><rect x="723" y="426" width="3" height="4" fill="#26a69a"/>
<rect x="729" y="425" width="1" height="9" fill="#ef5350"/><rect x="728" y="426" width="3" height="6" fill="#ef5350"/>
<rect x="734" y="425" width="1" height="11" fill="#26a69a"/><rect x="733" y="425" width="3" height="7" fill="#26a69a"/>
<rect x="738" y="414" width="1" height="14" fill="#26a69a"/><rect x="737" y="417" width="3" height="11" fill="#26a69a"/>
<rect x="743" y="404" width="1" height="15" fill="#26a69a"/><rect x="742" y="410" width="3" height="8" fill="#26a69a"/>
<rect x="747" y="212" width="1" height="199" fill="#26a69a"/><rect x="746" y="275" width="3" height="136" fill="#26a69a"/>
<rect x="752" y="224" width="1" height="141" fill="#ef5350"/><rect x="751" y="272" width="3" height="74" fill="#ef5350"/>
<rect x="757" y="265" width="1" height="81" fill="#26a69a"/><rect x="756" y="307" width="3" height="39" fill="#26a69a"/>
<rect x="761" y="225" width="1" height="88" fill="#26a69a"/><rect x="760" y="259" width="3" height="49" fill="#26a69a"/>
<rect x="766" y="225" width="1" height="72" fill="#ef5350"/><rect x="765" y="253" width="3" height="22" fill="#ef5350"/>
<rect x="770" y="236" width="1" height="54" fill="#26a69a"/><rect x="769" y="258" width="3" height="16" fill="#26a69a"/>
<rect x="775" y="248" width="1" height="19" fill="#ef5350"/><rect x="774" y="259" width="3" height="7" fill="#ef5350"/>
<rect x="780" y="230" width="1" height="82" fill="#ef5350"/><rect x="779" y="265" width="3" height="20" fill="#ef5350"/>
<rect x="784" y="253" width="1" height="59" fill="#ef5350"/><rect x="783" y="284" width="3" height="22" fill="#ef5350"/>
<rect x="789" y="271" width="1" height="34" fill="#ef5350"/><rect x="788" y="302" width="3" height="3" fill="#ef5350"/>
<rect x="793" y="297" width="1" height="45" fill="#ef5350"/><rect x="792" y="304" width="3" height="28" fill="#ef5350"/>
<rect x="798" y="259" width="1" height="82" fill="#26a69a"/><rect x="797" y="306" width="3" height="27" fill="#26a69a"/>
<rect x="803" y="298" width="1" height="30" fill="#ef5350"/><rect x="802" y="307" width="3" height="3" fill="#ef5350"/>
<rect x="807" y="307" width="1" height="9" fill="#ef5350"/><rect x="806" y="309" width="3" height="4" fill="#ef5350"/>
<rect x="812" y="308" width="1" height="24" fill="#ef5350"/><rect x="811" y="312" width="3" height="14" fill="#ef5350"/>
<rect x="816" y="316" width="1" height="34" fill="#ef5350"/><rect x="815" y="326" width="3" height="3" fill="#ef5350"/>
<rect x="821" y="315" width="1" height="53" fill="#ef5350"/><rect x="820" y="326" width="3" height="16" fill="#ef5350"/>
<rect x="826" y="324" width="1" height="34" fill="#ef5350"/><rect x="825" y="339" width="3" height="11" fill="#ef5350"/>
<rect x="830" y="332" width="1" height="21" fill="#26a69a"/><rect x="829" y="339" width="3" height="13" fill="#26a69a"/>
<rect x="835" y="329" width="1" height="16" fill="#26a69a"/><rect x="834" y="331" width="3" height="9" fill="#26a69a"/>
<rect x="839" y="316" width="1" height="27" fill="#ef5350"/><rect x="838" y="331" width="3" height="12" fill="#ef5350"/>
<rect x="844" y="336" width="1" height="18" fill="#ef5350"/><rect x="843" y="338" width="3" height="14" fill="#ef5350"/>
<rect x="849" y="345" width="1" height="9" fill="#ef5350"/><rect x="848" y="350" width="3" height="4" fill="#ef5350"/>
<rect x="853" y="343" width="1" height="11" fill="#26a69a"/><rect x="852" y="350" width="3" height="4" fill="#26a69a"/>
<rect x="858" y="350" width="1" height="3" fill="#ef5350"/><rect x="857" y="350" width="3" height="3" fill="#ef5350"/>
<rect x="862" y="348" width="1" height="12" fill="#ef5350"/><rect x="861" y="351" width="3" height="7" fill="#ef5350"/>
<rect x="867" y="354" width="1" height="26" fill="#ef5350"/><rect x="866" y="357" width="3" height="20" fill="#ef5350"/>
<rect x="872" y="369" width="1" height="8" fill="#26a69a"/><rect x="871" y="375" width="3" height="2" fill="#26a69a"/>
<rect x="876" y="373" width="1" height="5" fill="#ef5350"/><rect x="875" y="375" width="3" height="1" fill="#ef5350"/>
<rect x="881" y="348" width="1" height="33" fill="#ef5350"/><rect x="880" y="374" width="3" height="7" fill="#ef5350"/>
<rect x="886" y="369" width="1" height="11" fill="#26a69a"/><rect x="885" y="372" width="3" height="8" fill="#26a69a"/>
<rect x="890" y="370" width="1" height="8" fill="#ef5350"/><rect x="889" y="372" width="3" height="5" fill="#ef5350"/>
<rect x="895" y="371" width="1" height="8" fill="#26a69a"/><rect x="894" y="376" width="3" height="1" fill="#26a69a"/>
<rect x="899" y="370" width="1" height="10" fill="#26a69a"/><rect x="898" y="372" width="3" height="5" fill="#26a69a"/>
<rect x="904" y="371" width="1" height="7" fill="#ef5350"/><rect x="903" y="372" width="3" height="4" fill="#ef5350"/>
<rect x="909" y="374" width="1" height="7" fill="#26a69a"/><rect x="908" y="375" width="3" height="1" fill="#26a69a"/>
<rect x="913" y="374" width="1" height="9" fill="#ef5350"/><rect x="912" y="375" width="3" height="8" fill="#ef5350"/>
<rect x="918" y="374" width="1" height="19" fill="#26a69a"/><rect x="917" y="375" width="3" height="8" fill="#26a69a"/>
<rect x="922" y="374" width="1" height="9" fill="#ef5350"/><rect x="921" y="375" width="3" height="8" fill="#ef5350"/>
<rect x="927" y="382" width="1" height="10" fill="#ef5350"/><rect x="926" y="383" width="3" height="7" fill="#ef5350"/>
<rect x="932" y="388" width="1" height="13" fill="#ef5350"/><rect x="931" y="389" width="3" height="8" fill="#ef5350"/>
<rect x="936" y="393" width="1" height="7" fill="#ef5350"/><rect x="935" y="396" width="3" height="3" fill="#ef5350"/>
<rect x="941" y="395" width="1" height="5" fill="#ef5350"/><rect x="940" y="398" width="3" height="2" fill="#ef5350"/>
<rect x="945" y="389" width="1" height="11" fill="#26a69a"/><rect x="944" y="394" width="3" height="6" fill="#26a69a"/>
<rect x="950" y="393" width="1" height="3" fill="#ef5350"/><rect x="949" y="393" width="3" height="3" fill="#ef5350"/>
<rect x="955" y="394" width="1" height="7" fill="#ef5350"/><rect x="954" y="395" width="3" height="5" fill="#ef5350"/>
<rect x="959" y="398" width="1" height="4" fill="#ef5350"/><rect x="958" y="399" width="3" height="3" fill="#ef5350"/>
<rect x="964" y="401" width="1" height="5" fill="#ef5350"/><rect x="963" y="401" width="3" height="5" fill="#ef5350"/>
<rect x="968" y="360" width="1" height="47" fill="#26a69a"/><rect x="967" y="386" width="3" height="20" fill="#26a69a"/>
<rect x="973" y="371" width="1" height="18" fill="#26a69a"/><rect x="972" y="375" width="3" height="11" fill="#26a69a"/>
<rect x="978" y="376" width="1" height="7" fill="#ef5350"/><rect x="977" y="376" width="3" height="5" fill="#ef5350"/>
<rect x="982" y="365" width="1" height="16" fill="#26a69a"/><rect x="981" y="366" width="3" height="15" fill="#26a69a"/>
<rect x="987" y="283" width="1" height="86" fill="#26a69a"/><rect x="986" y="324" width="3" height="43" fill="#26a69a"/>
<rect x="991" y="324" width="1" height="31" fill="#ef5350"/><rect x="990" y="324" width="3" height="17" fill="#ef5350"/>
<rect x="996" y="331" width="1" height="28" fill="#ef5350"/><rect x="995" y="339" width="3" height="11" fill="#ef5350"/>
<rect x="1001" y="349" width="1" height="16" fill="#ef5350"/><rect x="1000" y="349" width="3" height="13" fill="#ef5350"/>
<rect x="1005" y="356" width="1" height="14" fill="#ef5350"/><rect x="1004" y="361" width="3" height="4" fill="#ef5350"/>
<rect x="1010" y="363" width="1" height="15" fill="#ef5350"/><rect x="1009" y="363" width="3" height="12" fill="#ef5350"/>
<rect x="1014" y="319" width="1" height="61" fill="#26a69a"/><rect x="1013" y="372" width="3" height="3" fill="#26a69a"/>
<rect x="1019" y="332" width="1" height="42" fill="#26a69a"/><rect x="1018" y="351" width="3" height="22" fill="#26a69a"/>
<rect x="1024" y="340" width="1" height="16" fill="#26a69a"/><rect x="1023" y="347" width="3" height="6" fill="#26a69a"/>
<rect x="1028" y="325" width="1" height="41" fill="#ef5350"/><rect x="1027" y="347" width="3" height="13" fill="#ef5350"/>
<rect x="1033" y="354" width="1" height="29" fill="#ef5350"/><rect x="1032" y="359" width="3" height="23" fill="#ef5350"/>
<rect x="1037" y="352" width="1" height="30" fill="#26a69a"/><rect x="1036" y="368" width="3" height="14" fill="#26a69a"/>
<rect x="1042" y="365" width="1" height="18" fill="#26a69a"/><rect x="1041" y="365" width="3" height="4" fill="#26a69a"/>
<rect x="1047" y="360" width="1" height="21" fill="#ef5350"/><rect x="1046" y="365" width="3" height="6" fill="#ef5350"/>
<rect x="1051" y="362" width="1" height="8" fill="#26a69a"/><rect x="1050" y="367" width="3" height="3" fill="#26a69a"/>
<rect x="1056" y="362" width="1" height="14" fill="#ef5350"/><rect x="1055" y="368" width="3" height="1" fill="#ef5350"/>
<rect x="1060" y="354" width="1" height="19" fill="#ef5350"/><rect x="1059" y="369" width="3" height="2" fill="#ef5350"/>
<rect x="1065" y="360" width="1" height="21" fill="#ef5350"/><rect x="1064" y="370" width="3" height="2" fill="#ef5350"/>
<rect x="1070" y="365" width="1" height="11" fill="#26a69a"/><rect x="1069" y="370" width="3" height="2" fill="#26a69a"/>
<rect x="1074" y="355" width="1" height="21" fill="#26a69a"/><rect x="1073" y="360" width="3" height="10" fill="#26a69a"/>
<rect x="1079" y="357" width="1" height="11" fill="#ef5350"/><rect x="1078" y="360" width="3" height="2" fill="#ef5350"/>
<rect x="1084" y="355" width="1" height="13" fill="#26a69a"/><rect x="1083" y="357" width="3" height="5" fill="#26a69a"/>
<rect x="1088" y="357" width="1" height="11" fill="#26a69a"/><rect x="1087" y="364" width="3" height="4" fill="#26a69a"/>
<rect x="1093" y="357" width="1" height="11" fill="#26a69a"/><rect x="1092" y="360" width="3" height="5" fill="#26a69a"/>
</g>
<line x1="10" y1="360.5" x2="1467" y2="360.5" stroke="#26a69a" stroke-width="1" stroke-dasharray="1 2" shape-rendering="crispEdges"/>
<g stroke="#0b0b14" stroke-width="2" fill="none" stroke-linecap="butt">
<line x1="691" y1="222" x2="1135" y2="368.8"/>
<line x1="521.3" y1="472.4" x2="1125.8" y2="385.8"/>
<line x1="75" y1="393" x2="75" y2="482"/>
<line x1="729" y1="235" x2="729" y2="442"/>
<line x1="1102" y1="146" x2="1102" y2="355.5"/>
<line x1="1102" y1="391" x2="1102" y2="576"/>
<line x1="1102" y1="145.2" x2="1467" y2="145.2" stroke-dasharray="10 12"/>
<line x1="1102" y1="575.2" x2="1467" y2="575.2" stroke-dasharray="10 12"/>
</g>
</g>
<g stroke="#fdfcee" stroke-width="0.3" paint-order="fill stroke">
<text x="856.2" y="245.6" font-size="19.5" fill="#e65100" font-weight="bold" text-anchor="start" textLength="192.1" lengthAdjust="spacingAndGlyphs">symmetrical triangle</text>
<text x="1160.3" y="169.6" font-size="19.5" fill="#e65100" font-weight="bold" text-anchor="start" textLength="123.4" lengthAdjust="spacingAndGlyphs">bullish target</text>
<text x="1206.2" y="558.3" font-size="19.5" fill="#e65100" font-weight="bold" text-anchor="start" textLength="131.2" lengthAdjust="spacingAndGlyphs">bearish target</text>
</g>
<text x="10.5" y="18.9" font-size="12.5" fill="#2a2e39" font-weight="normal" text-anchor="start" textLength="70.4" lengthAdjust="spacingAndGlyphs" stroke="#2a2e39" stroke-width="0.22">lilitlindabrig1</text>
<text x="86.6" y="18.9" font-size="12.5" fill="#2a2e39" font-weight="normal" text-anchor="start" textLength="49.9" lengthAdjust="spacingAndGlyphs" stroke="#2a2e39" stroke-width="0.22">published</text>
<text x="141.2" y="18.9" font-size="12.5" fill="#2a2e39" font-weight="normal" text-anchor="start" textLength="12.2" lengthAdjust="spacingAndGlyphs" stroke="#2a2e39" stroke-width="0.22">on</text>
<text x="158.4" y="18.9" font-size="12.5" fill="#2a2e39" font-weight="normal" text-anchor="start" textLength="93.5" lengthAdjust="spacingAndGlyphs" stroke="#2a2e39" stroke-width="0.22">TradingView.com,</text>
<text x="256.9" y="18.9" font-size="12.5" fill="#2a2e39" font-weight="normal" text-anchor="start" textLength="18.7" lengthAdjust="spacingAndGlyphs" stroke="#2a2e39" stroke-width="0.22">Nov</text>
<text x="280.6" y="18.9" font-size="12.5" fill="#2a2e39" font-weight="normal" text-anchor="start" textLength="15.0" lengthAdjust="spacingAndGlyphs" stroke="#2a2e39" stroke-width="0.22">08,</text>
<text x="301.1" y="18.9" font-size="12.5" fill="#2a2e39" font-weight="normal" text-anchor="start" textLength="23.9" lengthAdjust="spacingAndGlyphs" stroke="#2a2e39" stroke-width="0.22">2023</text>
<text x="331.2" y="18.9" font-size="12.5" fill="#2a2e39" font-weight="normal" text-anchor="start" textLength="26.7" lengthAdjust="spacingAndGlyphs" stroke="#2a2e39" stroke-width="0.22">13:58</text>
<text x="362.9" y="18.9" font-size="12.5" fill="#2a2e39" font-weight="normal" text-anchor="start" textLength="33.8" lengthAdjust="spacingAndGlyphs" stroke="#2a2e39" stroke-width="0.22">UTC+4</text>
<text x="18.4" y="45.9" font-size="12" fill="#131722" font-weight="normal" text-anchor="start" textLength="9.1" lengthAdjust="spacingAndGlyphs" stroke="#131722" stroke-width="0.22">PI</text>
<text x="33.4" y="45.9" font-size="12" fill="#131722" font-weight="normal" text-anchor="start" textLength="4.0" lengthAdjust="spacingAndGlyphs" stroke="#131722" stroke-width="0.22">/</text>
<text x="41.7" y="45.9" font-size="12" fill="#131722" font-weight="normal" text-anchor="start" textLength="34.3" lengthAdjust="spacingAndGlyphs" stroke="#131722" stroke-width="0.22">Tether</text>
<text x="80.1" y="45.9" font-size="12" fill="#131722" font-weight="normal" text-anchor="start" textLength="23.4" lengthAdjust="spacingAndGlyphs" stroke="#131722" stroke-width="0.22">USD,</text>
<text x="109.7" y="45.9" font-size="12" fill="#131722" font-weight="normal" text-anchor="start" textLength="15.5" lengthAdjust="spacingAndGlyphs" stroke="#131722" stroke-width="0.22">1D,</text>
<text x="130.6" y="45.9" font-size="12" fill="#131722" font-weight="normal" text-anchor="start" textLength="32.5" lengthAdjust="spacingAndGlyphs" stroke="#131722" stroke-width="0.22">HUOBI</text>
<text x="171.7" y="45.9" font-size="12" fill="#131722" font-weight="normal" text-anchor="start" textLength="7.6" lengthAdjust="spacingAndGlyphs" stroke="#131722" stroke-width="0.22">O</text>
<text x="180.3" y="45.9" font-size="12" fill="#26a69a" font-weight="normal" text-anchor="start" textLength="53.1" lengthAdjust="spacingAndGlyphs" stroke="#26a69a" stroke-width="0.22">36.216481</text>
<text x="241.8" y="45.9" font-size="12" fill="#131722" font-weight="normal" text-anchor="start" textLength="7.2" lengthAdjust="spacingAndGlyphs" stroke="#131722" stroke-width="0.22">H</text>
<text x="250.0" y="45.9" font-size="12" fill="#26a69a" font-weight="normal" text-anchor="start" textLength="53.7" lengthAdjust="spacingAndGlyphs" stroke="#26a69a" stroke-width="0.22">37.439849</text>
<text x="312.1" y="45.9" font-size="12" fill="#131722" font-weight="normal" text-anchor="start" textLength="4.6" lengthAdjust="spacingAndGlyphs" stroke="#131722" stroke-width="0.22">L</text>
<text x="317.1" y="45.9" font-size="12" fill="#26a69a" font-weight="normal" text-anchor="start" textLength="54.8" lengthAdjust="spacingAndGlyphs" stroke="#26a69a" stroke-width="0.22">35.600000</text>
<text x="379.6" y="45.9" font-size="12" fill="#131722" font-weight="normal" text-anchor="start" textLength="6.4" lengthAdjust="spacingAndGlyphs" stroke="#131722" stroke-width="0.22">C</text>
<text x="386.5" y="45.9" font-size="12" fill="#26a69a" font-weight="normal" text-anchor="start" textLength="54.7" lengthAdjust="spacingAndGlyphs" stroke="#26a69a" stroke-width="0.22">36.960746</text>
<text x="448.9" y="45.9" font-size="12" fill="#26a69a" font-weight="normal" text-anchor="start" textLength="102.9" lengthAdjust="spacingAndGlyphs" stroke="#26a69a" stroke-width="0.22">+0.737204 (+2.04%)</text>
<text x="18.4" y="62.6" font-size="12" fill="#131722" font-weight="normal" text-anchor="start" textLength="15.3" lengthAdjust="spacingAndGlyphs" stroke="#131722" stroke-width="0.22">Vol</text>
<text x="38.5" y="62.6" font-size="12" fill="#131722" font-weight="normal" text-anchor="start" textLength="2.6" lengthAdjust="spacingAndGlyphs" stroke="#131722" stroke-width="0.22">·</text>
<text x="46.4" y="62.6" font-size="12" fill="#131722" font-weight="normal" text-anchor="start" textLength="8.7" lengthAdjust="spacingAndGlyphs" stroke="#131722" stroke-width="0.22">PI</text>
<text x="63.8" y="62.6" font-size="12" fill="#26a69a" font-weight="normal" text-anchor="start" textLength="35.9" lengthAdjust="spacingAndGlyphs" stroke="#26a69a" stroke-width="0.22">5.492K</text>
<text x="18.4" y="79.7" font-size="12" fill="#131722" font-weight="normal" text-anchor="start" textLength="21.3" lengthAdjust="spacingAndGlyphs" stroke="#131722" stroke-width="0.22">EMA</text>
<text x="44.2" y="79.7" font-size="12" fill="#131722" font-weight="normal" text-anchor="start" textLength="81.0" lengthAdjust="spacingAndGlyphs" stroke="#131722" stroke-width="0.22">20/50/100/200</text>
<text x="132.9" y="79.7" font-size="12" fill="#f5382c" font-weight="normal" text-anchor="start" textLength="54.8" lengthAdjust="spacingAndGlyphs" stroke="#f5382c" stroke-width="0.22">36.063857</text>
<text x="195.4" y="79.7" font-size="12" fill="#ff8a1c" font-weight="normal" text-anchor="start" textLength="53.9" lengthAdjust="spacingAndGlyphs" stroke="#ff8a1c" stroke-width="0.22">35.543513</text>
<text x="257.0" y="79.7" font-size="12" fill="#4caf50" font-weight="normal" text-anchor="start" textLength="54.0" lengthAdjust="spacingAndGlyphs" stroke="#4caf50" stroke-width="0.22">34.422966</text>
<text x="319.0" y="79.7" font-size="12" fill="#2b23ff" font-weight="normal" text-anchor="start" textLength="54.0" lengthAdjust="spacingAndGlyphs" stroke="#2b23ff" stroke-width="0.22">36.952870</text>
<text x="1475.2" y="109.7" font-size="12" fill="#131722" font-weight="normal" text-anchor="start" textLength="54.3" lengthAdjust="spacingAndGlyphs" stroke="#131722" stroke-width="0.22">80.000000</text>
<text x="1475.2" y="168.7" font-size="12" fill="#131722" font-weight="normal" text-anchor="start" textLength="54.3" lengthAdjust="spacingAndGlyphs" stroke="#131722" stroke-width="0.22">70.000000</text>
<text x="1475.2" y="227.7" font-size="12" fill="#131722" font-weight="normal" text-anchor="start" textLength="54.3" lengthAdjust="spacingAndGlyphs" stroke="#131722" stroke-width="0.22">60.000000</text>
<text x="1475.2" y="286.7" font-size="12" fill="#131722" font-weight="normal" text-anchor="start" textLength="54.3" lengthAdjust="spacingAndGlyphs" stroke="#131722" stroke-width="0.22">50.000000</text>
<text x="1475.2" y="345.7" font-size="12" fill="#131722" font-weight="normal" text-anchor="start" textLength="54.3" lengthAdjust="spacingAndGlyphs" stroke="#131722" stroke-width="0.22">40.000000</text>
<text x="1475.2" y="404.7" font-size="12" fill="#131722" font-weight="normal" text-anchor="start" textLength="54.3" lengthAdjust="spacingAndGlyphs" stroke="#131722" stroke-width="0.22">30.000000</text>
<text x="1475.2" y="463.7" font-size="12" fill="#131722" font-weight="normal" text-anchor="start" textLength="54.3" lengthAdjust="spacingAndGlyphs" stroke="#131722" stroke-width="0.22">20.000000</text>
<text x="1475.2" y="522.7" font-size="12" fill="#131722" font-weight="normal" text-anchor="start" textLength="54.3" lengthAdjust="spacingAndGlyphs" stroke="#131722" stroke-width="0.22">10.000000</text>
<text x="1475.8" y="640.7" font-size="12" fill="#131722" font-weight="normal" text-anchor="start" textLength="60.1" lengthAdjust="spacingAndGlyphs" stroke="#131722" stroke-width="0.22">−10.000000</text>
<text x="1475.8" y="699.7" font-size="12" fill="#131722" font-weight="normal" text-anchor="start" textLength="60.1" lengthAdjust="spacingAndGlyphs" stroke="#131722" stroke-width="0.22">−20.000000</text>
<text x="1475.8" y="758.7" font-size="12" fill="#131722" font-weight="normal" text-anchor="start" textLength="60.1" lengthAdjust="spacingAndGlyphs" stroke="#131722" stroke-width="0.22">−30.000000</text>
<rect x="1471" y="30.5" width="72.5" height="26.5" rx="4" fill="#ffffff" stroke="#e4e4e9" stroke-width="1.3"/>
<text x="1480.4" y="49.2" font-size="12" fill="#131722" font-weight="normal" text-anchor="start" textLength="27.3" lengthAdjust="spacingAndGlyphs" stroke="#131722" stroke-width="0.22">USDT</text>
<rect x="1467.5" y="137.3" width="67.5" height="16.5" rx="2" fill="#000000"/>
<rect x="1467.5" y="137.3" width="6" height="16.5" fill="#000"/>
<text x="1475.2" y="150.0" font-size="12" fill="#fff" font-weight="bold" text-anchor="start" textLength="54.3" lengthAdjust="spacingAndGlyphs">73.337892</text>
<rect x="1467.5" y="567.3" width="61.3" height="16.5" rx="2" fill="#000000"/>
<rect x="1467.5" y="567.3" width="6" height="16.5" fill="#000"/>
<text x="1475.2" y="579.9" font-size="12" fill="#fff" font-weight="bold" text-anchor="start" textLength="48.1" lengthAdjust="spacingAndGlyphs">0.482136</text>
<rect x="1419" y="352.1" width="46.9" height="16.8" rx="2" fill="#26a69a"/>
<rect x="1460" y="352.1" width="5.9" height="16.8" fill="#26a69a"/>
<rect x="1467.5" y="352.1" width="67.5" height="16.8" rx="2" fill="#26a69a"/>
<rect x="1467.5" y="352.1" width="6" height="16.8" fill="#26a69a"/>
<g stroke="#fff" stroke-width="0.3">
<text x="1423.2" y="364.8" font-size="12" fill="#fff" font-weight="normal" text-anchor="start" textLength="37.8" lengthAdjust="spacingAndGlyphs">PIUSDT</text>
<text x="1475.2" y="364.8" font-size="12" fill="#fff" font-weight="normal" text-anchor="start" textLength="54.3" lengthAdjust="spacingAndGlyphs">36.960746</text>
</g>
<text x="75.3" y="777.7" font-size="12" fill="#131722" font-weight="normal" text-anchor="middle" stroke="#131722" stroke-width="0.22">Apr</text>
<text x="213.3" y="777.7" font-size="12" fill="#131722" font-weight="normal" text-anchor="middle" stroke="#131722" stroke-width="0.22">May</text>
<text x="356.3" y="777.7" font-size="12" fill="#131722" font-weight="normal" text-anchor="middle" stroke="#131722" stroke-width="0.22">Jun</text>
<text x="494.3" y="777.7" font-size="12" fill="#131722" font-weight="normal" text-anchor="middle" stroke="#131722" stroke-width="0.22">Jul</text>
<text x="637.3" y="777.7" font-size="12" fill="#131722" font-weight="normal" text-anchor="middle" stroke="#131722" stroke-width="0.22">Aug</text>
<text x="780.3" y="777.7" font-size="12" fill="#131722" font-weight="normal" text-anchor="middle" stroke="#131722" stroke-width="0.22">Sep</text>
<text x="918.3" y="777.7" font-size="12" fill="#131722" font-weight="normal" text-anchor="middle" stroke="#131722" stroke-width="0.22">Oct</text>
<text x="1060.3" y="777.7" font-size="12" fill="#131722" font-weight="normal" text-anchor="middle" stroke="#131722" stroke-width="0.22">Nov</text>
<text x="1199.3" y="777.7" font-size="12" fill="#131722" font-weight="normal" text-anchor="middle" stroke="#131722" stroke-width="0.22">Dec</text>
<text x="1341.3" y="777.7" font-size="12" fill="#131722" font-weight="bold" text-anchor="middle">2024</text>
<text x="1438.3" y="777.7" font-size="12" fill="#131722" font-weight="normal" text-anchor="middle" stroke="#131722" stroke-width="0.22">22</text>
<g transform="translate(10.1,797.9) scale(0.552)" fill="#131722"><path d="M14 22H7V11H0V4h14v18zM28 22h-8l7.5-18h8L28 22z"/><circle cx="20" cy="8" r="4"/></g>
<text x="33.2" y="809.5" font-size="13" fill="#131722" font-weight="normal" text-anchor="start" textLength="70.0" lengthAdjust="spacingAndGlyphs" stroke="#131722" stroke-width="0.22">TradingView</text>
</svg>
</body></html>
